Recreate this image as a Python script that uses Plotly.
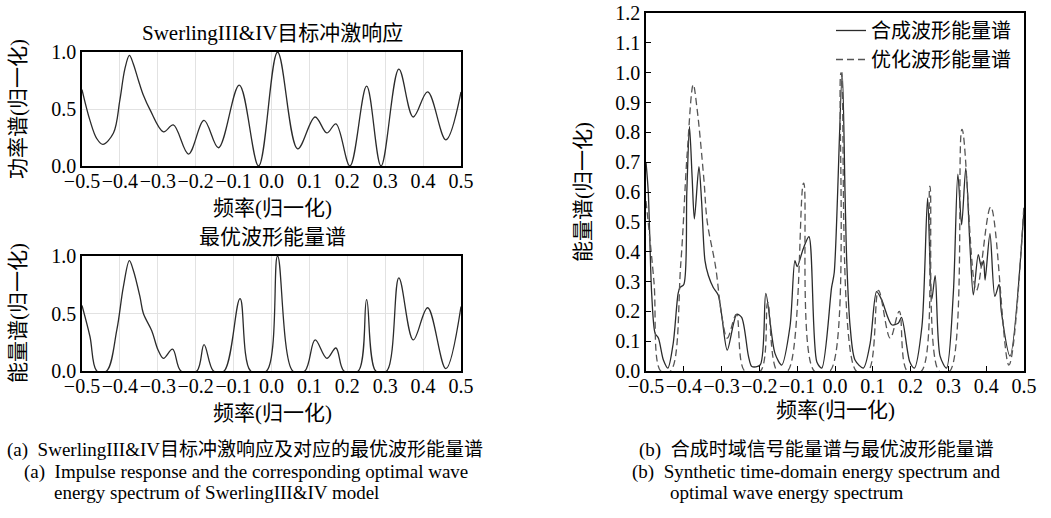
import plotly.graph_objects as go

# ---------------- data ----------------
# (a) top: SwerlingIII&IV impulse response (power spectrum, normalised)
impulse_x = [-0.5, -0.479, -0.461, -0.445, -0.417, -0.40, -0.387, -0.375, -0.365, -0.351, -0.338,
             -0.32, -0.285, -0.259, -0.219, -0.178, -0.14, -0.085, -0.034, 0.016, 0.069, 0.115,
             0.146, 0.170, 0.207, 0.251, 0.289, 0.336, 0.374, 0.412, 0.460, 0.5]
impulse_y = [0.67, 0.40, 0.24, 0.19, 0.29, 0.58, 0.85, 0.97, 0.90, 0.75, 0.62,
             0.49, 0.30, 0.36, 0.105, 0.40, 0.16, 0.71, 0.0, 1.0, 0.15, 0.43,
             0.29, 0.37, 0.0, 0.70, 0.0, 0.85, 0.43, 0.65, 0.23, 0.65]

# (a) bottom and (b) dashed: optimal waveform energy spectrum
optimal_x = [-0.5, -0.479, -0.461, -0.435, -0.408, -0.391, -0.375, -0.365, -0.347, -0.338, -0.316,
             -0.299, -0.285, -0.261, -0.239, -0.197, -0.178, -0.153, -0.125, -0.083, -0.055,
             -0.013, 0.016, 0.056, 0.088, 0.115, 0.146, 0.170, 0.191, 0.229, 0.251, 0.275,
             0.304, 0.336, 0.374, 0.412, 0.460, 0.5]
optimal_y = [0.57, 0.30, 0.0, 0.0, 0.36, 0.73, 0.96, 0.88, 0.645, 0.50, 0.35,
             0.18, 0.11, 0.19, 0.0, 0.0, 0.23, 0.0, 0.0, 0.63, 0.0,
             0.0, 1.0, 0.0, 0.0, 0.27, 0.11, 0.20, 0.0, 0.0, 0.62, 0.0,
             0.0, 0.81, 0.27, 0.55, 0.02, 0.56]

# (b) solid: synthetic time-domain signal energy spectrum
synth_x = [-0.5, -0.494, -0.485, -0.476, -0.467, -0.454, -0.442, -0.428, -0.415, -0.41, -0.40,
           -0.392, -0.385, -0.378, -0.372, -0.36, -0.353, -0.344, -0.335, -0.322, -0.309, -0.30,
           -0.285, -0.26, -0.247, -0.229, -0.22, -0.198, -0.183, -0.159, -0.141, -0.119, -0.106,
           -0.10, -0.084, -0.069, -0.048, -0.035, -0.009, -0.002, 0.019, 0.0265, 0.031, 0.04,
           0.053, 0.075, 0.093, 0.11, 0.123, 0.15, 0.167, 0.176, 0.198, 0.21, 0.23, 0.245,
           0.256, 0.265, 0.278, 0.295, 0.313, 0.325, 0.335, 0.346, 0.357, 0.366, 0.379, 0.387,
           0.393, 0.397, 0.41, 0.423, 0.434, 0.44, 0.463, 0.5]
synth_y = [0.70, 0.60, 0.26, 0.127, 0.11, 0.037, 0.01, 0.093, 0.26, 0.28, 0.29,
           0.60, 0.82, 0.65, 0.51, 0.685, 0.57, 0.37, 0.32, 0.28, 0.255, 0.19,
           0.07, 0.19, 0.18, 0.05, 0.015, 0.02, 0.26, 0.06, 0.02, 0.15, 0.37,
           0.35, 0.41, 0.45, 0.03, 0.01, 0.28, 0.33, 1.0, 0.60, 0.37, 0.15,
           0.037, 0.01, 0.093, 0.266, 0.24, 0.155, 0.16, 0.18, 0.03, 0.01, 0.15, 0.58,
           0.24, 0.32, 0.05, 0.01, 0.26, 0.66, 0.49, 0.68, 0.42, 0.255, 0.39, 0.35,
           0.37, 0.305, 0.46, 0.25, 0.29, 0.20, 0.05, 0.54]

x_ticks = [-0.5, -0.4, -0.3, -0.2, -0.1, 0.0, 0.1, 0.2, 0.3, 0.4, 0.5]
left_y_ticks = [0.0, 0.5, 1.0]
right_y_ticks = [0.0, 0.1, 0.2, 0.3, 0.4, 0.5, 0.6, 0.7, 0.8, 0.9, 1.0, 1.1, 1.2]

# ---------------- layout helpers ----------------
W, H = 1051, 518
FONT = "Liberation Serif, 'Noto Sans CJK SC', serif"
LINE = "#2b2b2b"


def px(x):
    return x / W


def py(y):
    return 1 - y / H


fig = go.Figure()

fig.add_trace(go.Scatter(x=impulse_x, y=impulse_y, mode="lines", xaxis="x", yaxis="y",
                         line=dict(color=LINE, width=1.3, shape="spline", smoothing=1.0),
                         showlegend=False))
fig.add_trace(go.Scatter(x=optimal_x, y=optimal_y, mode="lines", xaxis="x2", yaxis="y2",
                         line=dict(color=LINE, width=1.3, shape="spline", smoothing=1.0),
                         showlegend=False))
fig.add_trace(go.Scatter(x=synth_x, y=synth_y, mode="lines", xaxis="x3", yaxis="y3",
                         name="合成波形能量谱",
                         line=dict(color=LINE, width=1.3, shape="spline", smoothing=0.8)))
fig.add_trace(go.Scatter(x=optimal_x, y=optimal_y, mode="lines", xaxis="x3", yaxis="y3",
                         name="优化波形能量谱",
                         line=dict(color="#555555", width=1.3, dash="7px,4px",
                                   shape="spline", smoothing=1.0)))

tickfont = dict(family=FONT, size=20, color="black")

left_x = dict(range=[-0.5, 0.5], tickvals=x_ticks, tickformat=".1f", tickangle=0, showgrid=True,
              gridcolor="#e2e2e2", gridwidth=1, showline=True, linecolor="black", linewidth=1.6,
              mirror=True, ticks="", tickfont=tickfont, zeroline=False, automargin=False,
              ticklabelstandoff=-4, domain=[px(82), px(461)])
left_y = dict(range=[0, 1.0], tickvals=left_y_ticks, tickformat=".1f", showgrid=True,
              gridcolor="#e2e2e2", gridwidth=1, showline=True, linecolor="black", linewidth=1.6,
              mirror=True, ticks="", tickfont=tickfont, zeroline=False, automargin=False)

fig.update_layout(
    width=W, height=H,
    margin=dict(l=0, r=0, t=0, b=0, autoexpand=False),
    paper_bgcolor="white", plot_bgcolor="white",
    font=dict(family=FONT, size=20, color="black"),
    xaxis=dict(left_x, anchor="y"),
    yaxis=dict(left_y, anchor="x", domain=[py(166), py(52)]),
    xaxis2=dict(left_x, anchor="y2"),
    yaxis2=dict(left_y, anchor="x2", domain=[py(371), py(256)]),
    xaxis3=dict(range=[-0.5, 0.5], tickvals=x_ticks, tickformat=".1f", tickangle=0, showgrid=False,
                showline=True, linecolor="black", linewidth=1.6, mirror=True,
                ticks="inside", ticklen=5, tickcolor="black", tickfont=tickfont,
                ticklabelstandoff=-4,
                zeroline=False, automargin=False, domain=[px(646), px(1024)], anchor="y3"),
    yaxis3=dict(range=[0, 1.2], tickvals=right_y_ticks, tickformat=".1f", showgrid=False,
                showline=True, linecolor="black", linewidth=1.6, mirror=True,
                ticks="inside", ticklen=5, tickcolor="black", tickfont=tickfont,
                zeroline=False, automargin=False, domain=[py(371), py(13)], anchor="x3"),
    legend=dict(x=px(1016), y=py(11), xanchor="right", yanchor="top",
                bgcolor="rgba(0,0,0,0)", borderwidth=0, itemwidth=30,
                font=dict(family=FONT, size=20, color="black"), tracegroupgap=0),
)

ann = []


def add(text, x, y, size=21, xanchor="center", angle=0):
    ann.append(dict(text=text, x=px(x), y=py(y), xref="paper", yref="paper",
                    xanchor=xanchor, yanchor="middle", showarrow=False, textangle=angle,
                    font=dict(family=FONT, size=size, color="black")))


add("SwerlingIII&amp;IV目标冲激响应", 272, 33)
add("频率(归一化)", 272, 208)
add("最优波形能量谱", 272, 237)
add("频率(归一化)", 272, 413)
add("功率谱(归一化)", 18, 109, angle=-90)
add("能量谱(归一化)", 18, 313, angle=-90)
add("能量谱(归一化)", 583, 192, angle=-90)
add("频率(归一化)", 835, 410)

cap = 19
add("(a)\u00a0\u00a0SwerlingIII&amp;IV目标冲激响应及对应的最优波形能量谱", 5, 450, size=cap, xanchor="left")
add("(a)\u00a0\u00a0Impulse response and the corresponding optimal wave", 22, 472, size=cap, xanchor="left")
add("energy spectrum of SwerlingIII&amp;IV model", 52, 492, size=cap, xanchor="left")
add("(b)\u00a0\u00a0合成时域信号能量谱与最优波形能量谱", 637, 450, size=cap, xanchor="left")
add("(b)\u00a0\u00a0Synthetic time-domain energy spectrum and", 630, 472, size=cap, xanchor="left")
add("optimal wave energy spectrum", 668, 492, size=cap, xanchor="left")

fig.update_layout(annotations=ann)

fig.write_html("out.html", config={"displayModeBar": False},
               post_script="document.body.style.margin='0';document.body.style.overflow='hidden';")
